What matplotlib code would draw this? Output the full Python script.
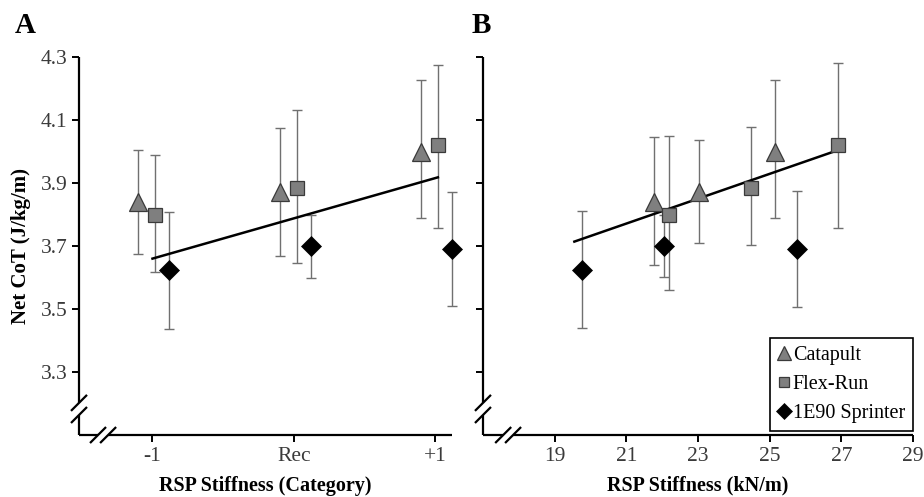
import numpy as np
import matplotlib.pyplot as plt

# data
series = ['Catapult', 'Flex-Run', '1E90 Sprinter']
cat_labels = ['-1', 'Rec', '+1']
cat_offsets = [-0.1, 0.02, 0.12]

cot_mean = {
    'Catapult': [3.84, 3.87, 4.00],
    'Flex-Run': [3.80, 3.885, 4.02],
    '1E90 Sprinter': [3.625, 3.70, 3.69],
}
# panel A error bar bounds (low, high)
err_a_low = {
    'Catapult': [3.675, 3.668, 3.790],
    'Flex-Run': [3.618, 3.645, 3.756],
    '1E90 Sprinter': [3.438, 3.600, 3.509],
}
err_a_high = {
    'Catapult': [4.004, 4.074, 4.228],
    'Flex-Run': [3.989, 4.132, 4.275],
    '1E90 Sprinter': [3.808, 3.797, 3.870],
}
# panel B error bar bounds (low, high)
err_b_low = {
    'Catapult': [3.640, 3.711, 3.790],
    'Flex-Run': [3.560, 3.703, 3.757],
    '1E90 Sprinter': [3.440, 3.602, 3.507],
}
err_b_high = {
    'Catapult': [4.045, 4.038, 4.228],
    'Flex-Run': [4.050, 4.077, 4.282],
    '1E90 Sprinter': [3.811, 3.797, 3.875],
}
stiffness = {
    'Catapult': [21.77, 23.02, 25.15],
    'Flex-Run': [22.18, 24.49, 26.90],
    '1E90 Sprinter': [19.75, 22.04, 25.75],
}

trend_a_x = [0.0, 2.02]
trend_a_y = [3.66, 3.918]
trend_b_x = [19.55, 27.05]
trend_b_y = [3.714, 4.010]

styles = {
    'Catapult': dict(marker='^', ms=12.5, mfc='#7f7f7f', mec='#3a3a3a', mew=0.9),
    'Flex-Run': dict(marker='s', ms=10, mfc='#7f7f7f', mec='#3a3a3a', mew=0.9),
    '1E90 Sprinter': dict(marker='D', ms=10, mfc='black', mec='black', mew=0.5),
}

plt.rcParams['font.family'] = 'Liberation Serif'
fig = plt.figure(figsize=(9.24, 4.97), dpi=100)
axA = fig.add_axes([0.0855, 0.1247, 0.4037, 0.7606])
axB = fig.add_axes([0.5227, 0.1247, 0.4654, 0.7606])


def draw_axes(ax, xbreak, ybreak=(0.053, 0.085)):
    for s in ax.spines.values():
        s.set_visible(False)
    bb = ax.get_position()
    wpx = bb.width * 924
    hpx = bb.height * 497
    kw = dict(transform=ax.transAxes, color='black', lw=1.6, clip_on=False,
              solid_capstyle='butt')
    # y axis with break
    ax.plot([0, 0], [ybreak[1], 1], **kw)
    ax.plot([0, 0], [0, ybreak[0]], **kw)
    # x axis with break
    ax.plot([0, xbreak[0]], [0, 0], **kw)
    ax.plot([xbreak[1], 1], [0, 0], **kw)
    dx, dy = 8 / wpx, 8 / hpx
    for yb in ybreak:
        ax.plot([-dx, dx], [yb - dy, yb + dy], **kw)
    for xb in xbreak:
        ax.plot([xb - dx, xb + dx], [-dy, dy], **kw)
    ax.set_ylim(3.1, 4.3)
    ax.set_yticks([3.3, 3.5, 3.7, 3.9, 4.1, 4.3])
    ax.tick_params(direction='out', length=5, width=1.4, labelsize=15.5,
                   labelcolor='#3a3a3a')


# panel A
for name in series:
    x = np.arange(3) + cat_offsets[series.index(name)]
    y = np.array(cot_mean[name])
    lo = y - np.array(err_a_low[name])
    hi = np.array(err_a_high[name]) - y
    eb = axA.errorbar(x, y, yerr=[lo, hi], fmt='none', ecolor='#707070',
                      elinewidth=1, capsize=3.5, capthick=1, zorder=2)
    for art in eb.lines[1] + eb.lines[2]:
        art.set_clip_on(False)
    axA.plot(x, y, ls='none', zorder=4, clip_on=False, **styles[name])
axA.plot(trend_a_x, trend_a_y, color='black', lw=1.8, zorder=3)
axA.set_xlim(-0.52, 2.12)
axA.set_xticks(range(3))
axA.set_xticklabels(cat_labels)
draw_axes(axA, xbreak=(0.051, 0.078))
axA.set_xlabel('RSP Stiffness (Category)', fontsize=14.5, fontweight='bold', labelpad=7)
axA.set_ylabel('Net CoT (J/kg/m)', fontsize=15, fontweight='bold', labelpad=7)
axA.text(-0.172, 1.063, 'A', transform=axA.transAxes, fontsize=21,
         fontweight='bold', va='baseline')

# panel B
handles = []
for name in series:
    x = np.array(stiffness[name])
    y = np.array(cot_mean[name])
    lo = y - np.array(err_b_low[name])
    hi = np.array(err_b_high[name]) - y
    axB.errorbar(x, y, yerr=[lo, hi], fmt='none', ecolor='#707070',
                 elinewidth=1, capsize=3.5, capthick=1, zorder=2)
    h, = axB.plot(x, y, ls='none', zorder=4, label=name, **styles[name])
    handles.append(h)
axB.plot(trend_b_x, trend_b_y, color='black', lw=1.8, zorder=3)
axB.set_xlim(17, 29)
axB.set_xticks([19, 21, 23, 25, 27, 29])
draw_axes(axB, xbreak=(0.047, 0.07))
axB.set_yticklabels([])
axB.set_xlabel('RSP Stiffness (kN/m)', fontsize=14.5, fontweight='bold', labelpad=7)
axB.text(-0.026, 1.063, 'B', transform=axB.transAxes, fontsize=21,
         fontweight='bold', va='baseline')
leg = axB.legend(handles=handles, loc='lower right', bbox_to_anchor=(1.0, 0.01),
                 borderaxespad=0, fontsize=14.5, markerscale=0.78,
                 handlelength=0.6, handletextpad=0.15, borderpad=0.4,
                 labelspacing=0.5, fancybox=False, framealpha=1,
                 edgecolor='black')
leg.get_frame().set_linewidth(1.2)

fig.savefig('out.png', dpi=100)
